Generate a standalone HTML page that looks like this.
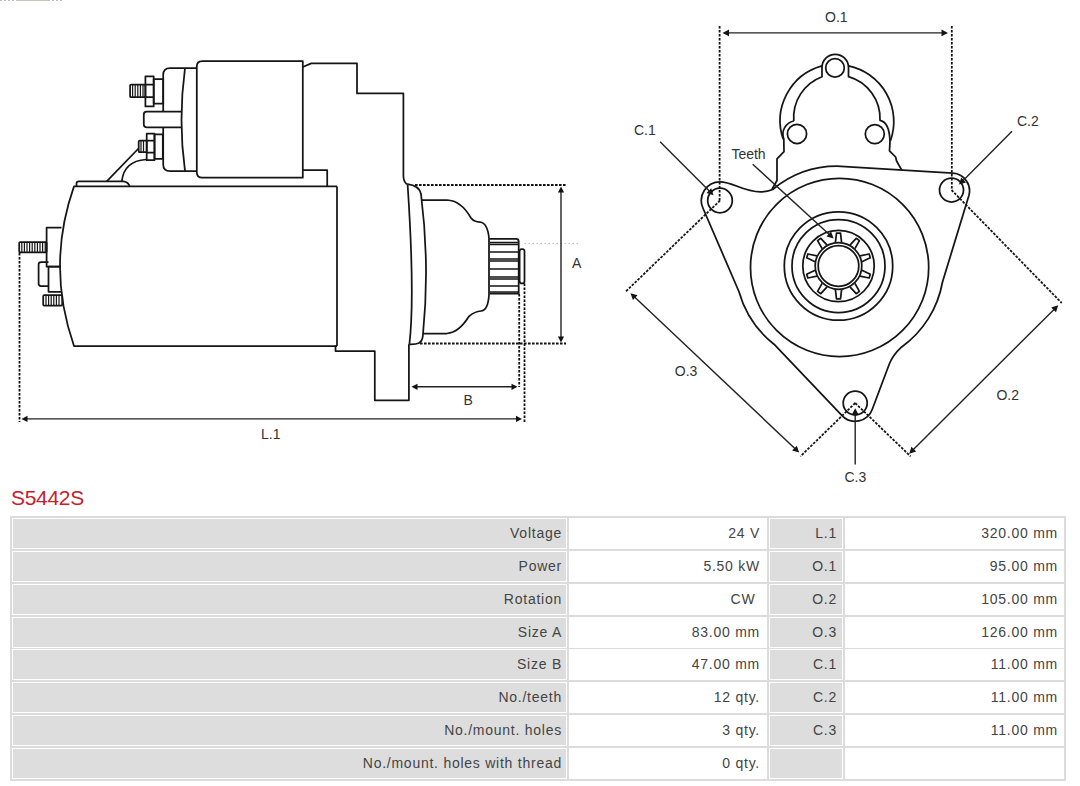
<!DOCTYPE html>
<html>
<head>
<meta charset="utf-8">
<style>
html,body{margin:0;padding:0;background:#fff;width:1080px;height:786px;overflow:hidden;position:relative;font-family:"Liberation Sans",sans-serif;}
#draw{position:absolute;left:0;top:0;width:1080px;height:500px;}
#title{position:absolute;left:11px;top:486px;font-size:21px;color:#c8202b;line-height:24px;letter-spacing:-0.3px;}
#tbl{position:absolute;left:10px;top:516px;width:1056px;height:265px;background:#dcdcdc;}
.c{position:absolute;box-sizing:border-box;border:1px solid #fff;height:31px;font-size:14px;letter-spacing:0.75px;color:#444;text-align:right;line-height:29px;white-space:nowrap;}
.g{background:#dddddd;}
.w{background:#fff;}
.c1{left:2px;width:555px;padding-right:4px;}
.c2{left:559px;width:198px;padding-right:6px;}
.c3{left:759px;width:74px;padding-right:5px;}
.c4{left:835px;width:219px;padding-right:5px;}
</style>
</head>
<body>
<svg id="draw" width="1080" height="500" viewBox="0 0 1080 500">
<!-- LEFT DRAWING -->
<g fill="none" stroke="#151515" stroke-width="1.75" stroke-linejoin="round">
<!-- motor body -->
<path d="M337,186.4 L74,186.4 Q46,266 74,346 L337,346"/>
<path d="M337,186.4 L337,346"/>
<!-- pad -->
<path d="M76.5,186.4 L76.5,183.5 Q76.5,181.3 79,181.3 L123.6,181.3 Q128.5,182 129.6,186.4"/>
<!-- wire -->
<path d="M106.7,181.3 L138.5,148.5"/>
<path d="M121.8,181.3 Q124,161 146,159.5"/>
<!-- solenoid cap -->
<path d="M196.8,68.2 L170,68.2 Q163.2,68.2 163.2,75 L163.2,164.5 Q163.2,171.2 170,171.2 L196.8,171.2"/>
<!-- solenoid body -->
<path d="M302.8,61 L202.3,61 Q196.8,61 196.8,66.5 L196.8,172.2 Q196.8,177.7 202.3,177.7 L302.8,177.7 Z"/>
<!-- upper terminal -->
<rect x="145.4" y="76.4" width="8.3" height="30"/>
<path d="M145.4,84.5 H153.7 M145.4,97.2 H153.7"/>
<rect x="153.7" y="79.1" width="9.5" height="24.6"/>
<rect x="130.1" y="84.5" width="15.3" height="12.7" rx="1"/>
<!-- middle bar -->
<path fill="#fff" d="M181.5,111.5 L146.5,111.5 Q143.8,111.5 143.8,114.2 L143.8,124.6 Q143.8,127.3 146.5,127.3 L181.5,127.3"/>
<path d="M185,68.2 Q178,120 185,171.2"/>
<!-- lower terminal -->
<rect x="146.7" y="133.5" width="7.8" height="26.7"/>
<path d="M146.7,140.6 H154.5 M146.7,152.6 H154.5"/>
<rect x="154.5" y="134.4" width="8.3" height="24.4"/>
<rect x="138.7" y="140.6" width="8" height="11.6" rx="1"/>
<!-- housing -->
<path d="M302.8,67 L311.2,63.4 L357,63.4 L357,93.4 L403.4,93.4 L403.4,176.5 Q404,183.5 407.6,184.2"/>
<path d="M302.8,170.2 L327.2,170.2 L327.2,186.4"/>
<path d="M337,346.2 L335.5,346.2 L335.5,351 L374.8,351 L374.8,400.3 L408.9,400.3 L408.9,344.3"/>
<!-- flange -->
<path d="M407.6,184.2 Q415,296 409.4,344.3 Q416,344.5 419,343 Q422.5,341 422.9,335.4 Q430,265 421,194 Q419,185.5 407.6,184.2"/>
<!-- nose -->
<path d="M421.5,200 L447,200 Q461,200.5 471,218 Q474,222 480,222 Q487.5,223 489,238 L489,295 Q488,310.5 481,311 Q474.5,311.5 469,316.3 Q459,332.5 447,333.5 L423,333.5"/>
<!-- pinion -->
<path d="M489.8,238.9 L516,238.9 Q518.7,238.9 518.7,241.5 L518.7,293.7 L489.8,293.7"/>
<path d="M489.8,242.5 H518.7 M489.8,244.5 H518.7 M489.8,252 H518.7 M489.8,259 H518.7 M489.8,261 H518.7 M489.8,269 H518.7 M489.8,277 H518.7 M489.8,279 H518.7 M489.8,286 H518.7 M489.8,292 H518.7" stroke-width="1.6"/>
<rect x="519.6" y="249.1" width="4.9" height="34.3" rx="2.2"/>
</g>
<!-- left end terminals -->
<g fill="none" stroke="#151515" stroke-width="1.75" stroke-linejoin="round">
<path d="M61.5,227.7 L46.6,227.7 L46.6,266.6 L61,266.6"/>
<path d="M61,266.6 L48.5,266.6 L48.5,291.8 L62,291.8"/>
<path d="M48.5,262 L41,262 Q38.6,262 38.6,264.5 L38.6,283.5 Q38.6,286 41,286 L48.5,286"/>
<rect x="19.2" y="242" width="27.4" height="10.4" rx="1"/>
<rect x="43.2" y="295.2" width="19" height="10.3" rx="1"/>
</g>
<g stroke="#151515" stroke-width="1.2">
<path d="M132.6,85 V96.7 M135.2,85 V96.7 M137.8,85 V96.7 M140.4,85 V96.7 M143,85 V96.7"/>
<path d="M141,141 V151.7 M143.5,141 V151.7"/>
<path d="M21.8,242.5 V252 M24.4,242.5 V252 M27,242.5 V252 M29.6,242.5 V252 M32.2,242.5 V252 M34.8,242.5 V252 M37.4,242.5 V252 M40,242.5 V252 M42.6,242.5 V252 M45.2,242.5 V252"/>
<path d="M46,295.7 V305 M48.6,295.7 V305 M51.2,295.7 V305 M53.8,295.7 V305 M56.4,295.7 V305 M59,295.7 V305"/>
</g>
<!-- left dimensions -->
<g fill="none" stroke="#111" stroke-width="1.8" stroke-dasharray="2.6,1.4">
<path d="M19.5,253 V422"/>
<path d="M519.2,294 V387"/>
<path d="M524.5,283.5 V422"/>
<path d="M415,185 H566"/>
<path d="M420,343.5 H566"/>
</g>
<path d="M524.5,243.4 H580" stroke="#bbb" stroke-width="1" stroke-dasharray="1.5,2.5" fill="none"/>
<g stroke="#222" stroke-width="1.4" fill="none">
<path d="M26,418.9 H517"/>
<path d="M416,386.8 H513"/>
<path d="M561,191 V338"/>
</g>
<g fill="#111" stroke="none">
<path d="M21.5,418.9 L27.5,415.8 L27.5,422 Z"/>
<path d="M522,418.9 L516,415.8 L516,422 Z"/>
<path d="M411.5,386.8 L417.5,383.7 L417.5,389.9 Z"/>
<path d="M517.5,386.8 L511.5,383.7 L511.5,389.9 Z"/>
<path d="M561,186.5 L557.9,192.5 L564.1,192.5 Z"/>
<path d="M561,342.5 L557.9,336.5 L564.1,336.5 Z"/>
</g>
<g font-family="Liberation Sans, sans-serif" font-size="14" fill="#333">
<text x="572" y="268">A</text>
<text x="463.5" y="404.5">B</text>
<text x="261" y="438.5">L.1</text>
</g>

<!--RIGHT-->
<!-- RIGHT DRAWING -->
<g fill="none" stroke="#151515" stroke-width="1.75" stroke-linejoin="round">
<path d="M702.9,208 A18.7,18.7 0 0 1 720,181.8 C733,181.8 743,191.8 760.5,191.8 Q767,191.8 772.7,189.5 A101.5,101.5 0 0 1 841,166.3 L952.8,173.2 A17.8,17.8 0 0 1 968.9,195.6 L942.5,282 A102,102 0 0 1 901.4,347.2 Q893,355 889.3,364 L872.4,409 A18.2,18.2 0 0 1 841.8,415.3 L774,344.2 A102,102 0 0 1 738.9,291.5 Z"/>
<path d="M772,189.3 L777,180.5 L777,158.8 L784,151.7 L783.8,139 A13.5,13.5 0 0 1 793.8,121"/>
<path d="M793.8,121 A43.6,43.6 0 0 1 822,76.7 L822,67.6 A13.25,13.25 0 0 1 848.5,67.6 L848.5,76.7 A43.6,43.6 0 0 1 880,120.3 Q889.5,122 890,141.7 L889.5,150.8 L895.6,157 L896.6,161 L901.7,170.2"/>
<path d="M783.2,139.2 A57,57 0 0 1 822,65.8 M848.5,65.8 A57,57 0 0 1 890.5,140.7"/>
<circle cx="835" cy="67.9" r="9.3"/>
<circle cx="797" cy="133.9" r="9.6"/>
<circle cx="874.8" cy="134.1" r="9.5"/>
<circle cx="720" cy="200.5" r="12.3"/>
<circle cx="951.5" cy="190" r="12"/>
<circle cx="855.2" cy="403" r="12"/>
<circle cx="839.6" cy="267.4" r="89.1"/>
<circle cx="838.5" cy="266.0" r="54.2"/>
<circle cx="838.5" cy="266.0" r="46.5"/>
<circle cx="838.5" cy="266.0" r="35.7"/>
<circle cx="838.5" cy="266.0" r="23.3"/>
<circle cx="838.5" cy="266.0" r="20.3"/>
<path d="M835.4,242.4 L836.5,233.2 L840.5,233.2 L841.6,242.4"/>
<path d="M849.9,245.1 L856.2,238.3 L859.4,240.6 L854.9,248.7"/>
<path d="M860.0,255.8 L869.1,254.0 L870.3,257.8 L861.9,261.7"/>
<path d="M861.9,270.3 L870.3,274.2 L869.1,278.0 L860.0,276.2"/>
<path d="M854.9,283.3 L859.4,291.4 L856.2,293.7 L849.9,286.9"/>
<path d="M841.6,289.6 L840.5,298.8 L836.5,298.8 L835.4,289.6"/>
<path d="M827.1,286.9 L820.8,293.7 L817.6,291.4 L822.1,283.3"/>
<path d="M817.0,276.2 L807.9,278.0 L806.7,274.2 L815.1,270.3"/>
<path d="M815.1,261.7 L806.7,257.8 L807.9,254.0 L817.0,255.8"/>
<path d="M822.1,248.7 L817.6,240.6 L820.8,238.3 L827.1,245.1"/>
</g>
<g fill="none" stroke="#151515" stroke-width="1.8" stroke-dasharray="2.6,1.4">
<path d="M719.6,26 V200.5"/>
<path d="M951.8,26 V190"/>
<path d="M720,200.5 L625.3,292"/>
<path d="M855.2,403 L800.4,456.4"/>
<path d="M951.5,190 L1061.7,303"/>
<path d="M855.2,403 L910.6,456.4"/>
</g>
<g fill="none" stroke="#222" stroke-width="1.4">
<path d="M727.7,32.9 L942.8,32.9"/>
<path d="M634.3,296.8 L795.4,449.0"/>
<path d="M1054.5,308.9 L912.9,450.0"/>
<path d="M660.1,141.7 L709.8,191.5"/>
<path d="M1012.0,131.3 L962.7,180.9"/>
<path d="M855.2,464.4 L855.2,413.5"/>
<path d="M752.7,164.2 L829.8,234.9"/>
</g>
<path fill="#151515" stroke="none" d="M948.0,32.9 L941.5,36.3 L941.5,29.5 Z M722.5,32.9 L729.0,29.5 L729.0,36.3 Z M799.2,452.6 L792.1,450.6 L796.8,445.7 Z M630.5,293.2 L637.6,295.2 L632.9,300.1 Z M909.2,453.7 L911.4,446.7 L916.2,451.5 Z M1058.2,305.2 L1056.0,312.2 L1051.2,307.4 Z M713.5,195.2 L706.5,193.0 L711.3,188.2 Z M959.0,184.6 L961.2,177.6 L966.0,182.4 Z M855.2,408.3 L858.6,414.8 L851.8,414.8 Z M833.6,238.4 L826.5,236.5 L831.1,231.5 Z"/>
<g font-family="Liberation Sans, sans-serif" font-size="14" fill="#333">
<text x="825" y="22">O.1</text>
<text x="634" y="135">C.1</text>
<text x="1017" y="125.7">C.2</text>
<text x="844.5" y="481.8">C.3</text>
<text x="996.4" y="400.1">O.2</text>
<text x="674.8" y="376.2">O.3</text>
<text x="731.4" y="159">Teeth</text>
</g>
</svg>
<div style="position:absolute;left:0;top:0;width:64px;height:1px;background:repeating-linear-gradient(90deg,#bbb 0 2px,#fff 2px 4px)"></div><div style="position:absolute;left:16px;top:0;width:32px;height:1px;background:#c8c4be"></div>
<div id="title">S5442S</div>
<div id="tbl">
<div class="c g c1" style="top:2px">Voltage</div><div class="c w c2" style="top:2px">24 V</div><div class="c g c3" style="top:2px">L.1</div><div class="c w c4" style="top:2px">320.00 mm</div>
<div class="c g c1" style="top:35px">Power</div><div class="c w c2" style="top:35px">5.50 kW</div><div class="c g c3" style="top:35px">O.1</div><div class="c w c4" style="top:35px">95.00 mm</div>
<div class="c g c1" style="top:68px">Rotation</div><div class="c w c2" style="top:68px">CW&nbsp;</div><div class="c g c3" style="top:68px">O.2</div><div class="c w c4" style="top:68px">105.00 mm</div>
<div class="c g c1" style="top:101px">Size A</div><div class="c w c2" style="top:101px">83.00 mm</div><div class="c g c3" style="top:101px">O.3</div><div class="c w c4" style="top:101px">126.00 mm</div>
<div class="c g c1" style="top:133px">Size B</div><div class="c w c2" style="top:133px">47.00 mm</div><div class="c g c3" style="top:133px">C.1</div><div class="c w c4" style="top:133px">11.00 mm</div>
<div class="c g c1" style="top:166px">No./teeth</div><div class="c w c2" style="top:166px">12 qty.</div><div class="c g c3" style="top:166px">C.2</div><div class="c w c4" style="top:166px">11.00 mm</div>
<div class="c g c1" style="top:199px">No./mount. holes</div><div class="c w c2" style="top:199px">3 qty.</div><div class="c g c3" style="top:199px">C.3</div><div class="c w c4" style="top:199px">11.00 mm</div>
<div class="c g c1" style="top:232px">No./mount. holes with thread</div><div class="c w c2" style="top:232px">0 qty.</div><div class="c g c3" style="top:232px"></div><div class="c w c4" style="top:232px"></div>
</div>
</body>
</html>
